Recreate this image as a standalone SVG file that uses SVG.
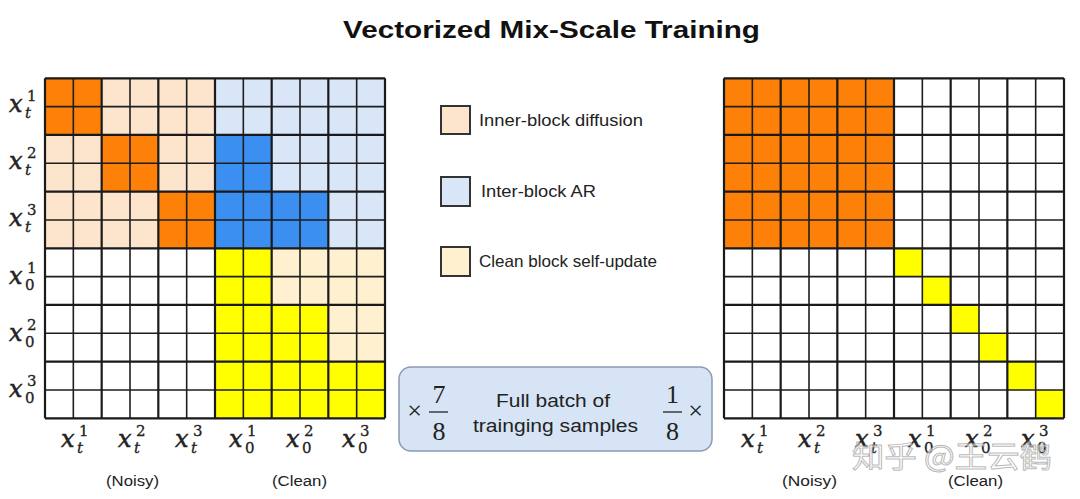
<svg xmlns="http://www.w3.org/2000/svg" xmlns:xlink="http://www.w3.org/1999/xlink" width="1080" height="499" viewBox="0 0 1080 499">
<style>
.sans{font-family:"Liberation Sans",Arial,sans-serif;fill:#222}
.title{font-family:"Liberation Sans",Arial,sans-serif;font-weight:bold;font-size:24px;fill:#111}
.mx{font-family:"DejaVu Serif","Liberation Serif",serif;font-style:italic;font-size:24px;fill:#222;stroke:#222;stroke-width:0.5}
.ms{font-family:"DejaVu Serif","Liberation Serif",serif;font-size:15px;fill:#222;stroke:#222;stroke-width:0.3}
.msi{font-family:"DejaVu Serif","Liberation Serif",serif;font-style:italic;font-size:15px;fill:#222;stroke:#222;stroke-width:0.3}
.num{font-family:"Liberation Serif","DejaVu Serif",serif;font-size:26px;fill:#222;text-anchor:middle}
.thin{fill:none;stroke:#1e1e1e;stroke-width:1.6}
.thick{fill:none;stroke:#1a1a1a;stroke-width:2.2}
.peach{fill:#fde4cc}.orange{fill:#fd8008}.lblue{fill:#d9e6f8}.blue{fill:#3a8ff0}.cream{fill:#fff0cf}.yellow{fill:#ffff00}.white{fill:#ffffff}
.leg{stroke:#333;stroke-width:2}
</style>
<defs>
<g id="gridlines">
<path class="thin" d="M28.33 0V340M85 0V340M141.67 0V340M198.33 0V340M255 0V340M311.67 0V340M0 28.33H340M0 85H340M0 141.67H340M0 198.33H340M0 255H340M0 311.67H340"/>
<path class="thick" d="M0 0V340M56.67 0V340M113.33 0V340M170 0V340M226.67 0V340M283.33 0V340M340 0V340M0 0H340M0 56.67H340M0 113.33H340M0 170H340M0 226.67H340M0 283.33H340M0 340H340"/>
</g>
</defs>
<rect width="1080" height="499" fill="#ffffff"/>
<g id="title"><text class="title" x="343" y="38" textLength="417" lengthAdjust="spacingAndGlyphs">Vectorized Mix-Scale Training</text></g>

<g id="left-matrix">
<rect class="peach" x="45" y="78.3" width="170" height="170"/>
<rect class="orange" x="45" y="78.3" width="56.7" height="56.7"/>
<rect class="orange" x="101.7" y="135" width="56.7" height="56.7"/>
<rect class="orange" x="158.3" y="191.7" width="56.7" height="56.7"/>
<rect class="lblue" x="215" y="78.3" width="170" height="170"/>
<rect class="blue" x="215" y="135" width="56.7" height="56.7"/>
<rect class="blue" x="215" y="191.7" width="113.3" height="56.7"/>
<rect class="white" x="45" y="248.3" width="170" height="170"/>
<rect class="cream" x="215" y="248.3" width="170" height="170"/>
<rect class="yellow" x="215" y="248.3" width="56.7" height="56.7"/>
<rect class="yellow" x="215" y="305" width="113.3" height="56.7"/>
<rect class="yellow" x="215" y="361.7" width="170" height="56.7"/>
<use xlink:href="#gridlines" href="#gridlines" x="45" y="78.3"/>
</g>

<g id="right-matrix">
<rect class="white" x="724" y="78.3" width="340" height="340"/>
<rect class="orange" x="724" y="78.3" width="170" height="170"/>
<rect class="yellow" x="894" y="248.3" width="28.33" height="28.33"/>
<rect class="yellow" x="922.3" y="276.7" width="28.33" height="28.33"/>
<rect class="yellow" x="950.7" y="305" width="28.33" height="28.33"/>
<rect class="yellow" x="979" y="333.3" width="28.33" height="28.33"/>
<rect class="yellow" x="1007.3" y="361.7" width="28.33" height="28.33"/>
<rect class="yellow" x="1035.7" y="390" width="28.33" height="28.33"/>
<use xlink:href="#gridlines" href="#gridlines" x="724" y="78.3"/>
</g>

<g id="row-labels">
<text class="mx" x="9" y="112">x</text><text class="ms" x="27" y="101">1</text><text class="msi" x="25" y="118">t</text>
<text class="mx" x="9" y="169">x</text><text class="ms" x="27" y="158">2</text><text class="msi" x="25" y="175">t</text>
<text class="mx" x="9" y="225.7">x</text><text class="ms" x="27" y="214.7">3</text><text class="msi" x="25" y="231.7">t</text>
<text class="mx" x="9" y="284">x</text><text class="ms" x="27" y="273">1</text><text class="ms" x="25" y="290">0</text>
<text class="mx" x="9" y="340.7">x</text><text class="ms" x="27" y="329.7">2</text><text class="ms" x="25" y="346.7">0</text>
<text class="mx" x="9" y="397.3">x</text><text class="ms" x="27" y="386.3">3</text><text class="ms" x="25" y="403.3">0</text>
</g>

<g id="left-col-labels">
<text class="mx" x="61" y="447">x</text><text class="ms" x="79" y="436">1</text><text class="msi" x="77" y="453">t</text>
<text class="mx" x="118" y="447">x</text><text class="ms" x="136" y="436">2</text><text class="msi" x="134" y="453">t</text>
<text class="mx" x="175" y="447">x</text><text class="ms" x="193" y="436">3</text><text class="msi" x="191" y="453">t</text>
<text class="mx" x="229" y="447">x</text><text class="ms" x="247" y="436">1</text><text class="ms" x="245" y="453">0</text>
<text class="mx" x="286" y="447">x</text><text class="ms" x="304" y="436">2</text><text class="ms" x="302" y="453">0</text>
<text class="mx" x="342" y="447">x</text><text class="ms" x="360" y="436">3</text><text class="ms" x="358" y="453">0</text>
<text class="sans" x="106" y="486" font-size="14" textLength="53" lengthAdjust="spacingAndGlyphs">(Noisy)</text>
<text class="sans" x="272" y="486" font-size="14" textLength="55" lengthAdjust="spacingAndGlyphs">(Clean)</text>
</g>

<g id="right-col-labels">
<text class="mx" x="741" y="447">x</text><text class="ms" x="759" y="436">1</text><text class="msi" x="757" y="453">t</text>
<text class="mx" x="798" y="447">x</text><text class="ms" x="816" y="436">2</text><text class="msi" x="814" y="453">t</text>
<text class="mx" x="855" y="447">x</text><text class="ms" x="873" y="436">3</text><text class="msi" x="871" y="453">t</text>
<text class="mx" x="908" y="447">x</text><text class="ms" x="926" y="436">1</text><text class="ms" x="924" y="453">0</text>
<text class="mx" x="965" y="447">x</text><text class="ms" x="983" y="436">2</text><text class="ms" x="981" y="453">0</text>
<text class="mx" x="1021" y="447">x</text><text class="ms" x="1039" y="436">3</text><text class="ms" x="1037" y="453">0</text>
<text class="sans" x="782" y="486" font-size="14" textLength="55" lengthAdjust="spacingAndGlyphs">(Noisy)</text>
<text class="sans" x="948" y="486" font-size="14" textLength="55" lengthAdjust="spacingAndGlyphs">(Clean)</text>
</g>

<g id="legend-inner">
<rect class="leg peach" x="441" y="106" width="29" height="28"/>
<text class="sans" x="479" y="126" font-size="16.5" textLength="164" lengthAdjust="spacingAndGlyphs">Inner-block diffusion</text>
</g>
<g id="legend-inter">
<rect class="leg lblue" x="441" y="177" width="29" height="29"/>
<text class="sans" x="481" y="197" font-size="16.5" textLength="115" lengthAdjust="spacingAndGlyphs">Inter-block AR</text>
</g>
<g id="legend-clean">
<rect class="leg cream" x="441" y="247" width="29" height="29"/>
<text class="sans" x="479" y="267" font-size="16.5" textLength="178" lengthAdjust="spacingAndGlyphs">Clean block self-update</text>
</g>

<g id="batch-box">
<rect x="399" y="367" width="313" height="84" rx="12" fill="#d6e4f6" stroke="#8a9bb0" stroke-width="1.5"/>
<text class="num" x="414.5" y="419" font-size="24">×</text>
<text class="num" x="439" y="403">7</text>
<line x1="429" y1="412" x2="448" y2="412" stroke="#222" stroke-width="1.3"/>
<text class="num" x="439" y="440">8</text>
<text class="sans" x="496" y="407" font-size="17.5" textLength="114" lengthAdjust="spacingAndGlyphs">Full batch of</text>
<text class="sans" x="473" y="432" font-size="17.5" textLength="165" lengthAdjust="spacingAndGlyphs">trainging samples</text>
<text class="num" x="672.5" y="403">1</text>
<line x1="663" y1="412" x2="682" y2="412" stroke="#222" stroke-width="1.3"/>
<text class="num" x="672.5" y="440">8</text>
<text class="num" x="695.5" y="419" font-size="24">×</text>
</g>

<g id="watermark">
<text x="852" y="467" font-family="'Noto Sans CJK SC',sans-serif" font-size="30" fill="#ffffff" fill-opacity="0.55" stroke="#9a9a9a" stroke-opacity="0.7" stroke-width="1" textLength="200" lengthAdjust="spacingAndGlyphs">知乎 @王云鹤</text>
</g>
</svg>
